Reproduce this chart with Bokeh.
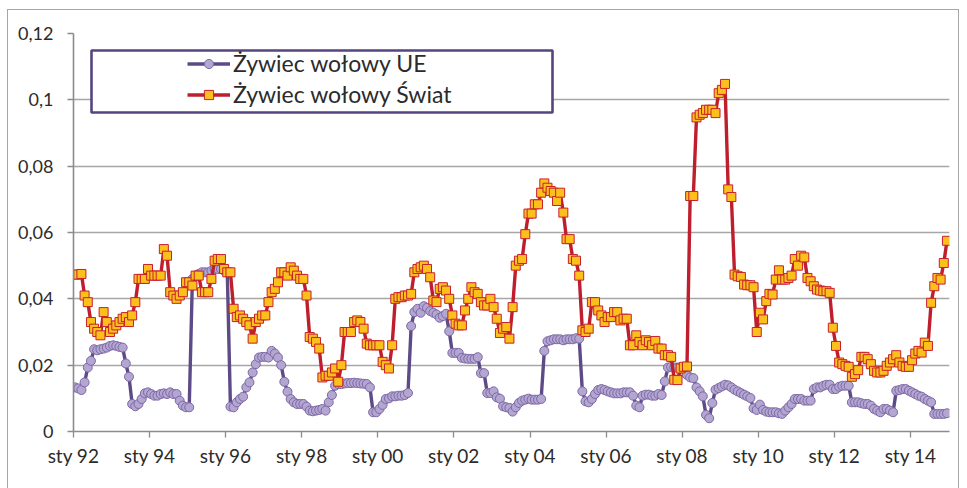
import numpy as np
from bokeh.plotting import figure
from bokeh.models import (Range1d, FixedTicker, Legend, LegendItem, BoxAnnotation)
from bokeh.embed import file_html
from bokeh.resources import INLINE

# ---------------- data (monthly, Jan 1992 - Dec 2014) ----------------
UE = [
    0.0133, 0.0130, 0.0125, 0.0148, 0.0193, 0.0213, 0.0248, 0.0245, 0.0248, 0.0250, 0.0253, 0.0258,  # 1992
    0.0260, 0.0258, 0.0255, 0.0253, 0.0205, 0.0165, 0.0083, 0.0076, 0.0083, 0.0098, 0.0115, 0.0118,  # 1993
    0.0113, 0.0108, 0.0108, 0.0113, 0.0115, 0.0113, 0.0118, 0.0113, 0.0113, 0.0093, 0.0078, 0.0073,  # 1994
    0.0073, 0.0460, 0.0470, 0.0475, 0.0480, 0.0480, 0.0480, 0.0485, 0.0490, 0.0490, 0.0490, 0.0485,  # 1995
    0.0480, 0.0075, 0.0073, 0.0088, 0.0098, 0.0105, 0.0133, 0.0148, 0.0178, 0.0203, 0.0223, 0.0225,  # 1996
    0.0225, 0.0223, 0.0243, 0.0235, 0.0223, 0.0200, 0.0150, 0.0120, 0.0098, 0.0088, 0.0083, 0.0083,  # 1997
    0.0083, 0.0075, 0.0063, 0.0061, 0.0063, 0.0065, 0.0068, 0.0063, 0.0088, 0.0110, 0.0138, 0.0143,  # 1998
    0.0143, 0.0145, 0.0146, 0.0146, 0.0147, 0.0146, 0.0145, 0.0144, 0.0143, 0.0133, 0.0058, 0.0058,  # 1999
    0.0068, 0.0080, 0.0098, 0.0100, 0.0106, 0.0106, 0.0108, 0.0108, 0.0110, 0.0116, 0.0318, 0.0360,  # 2000
    0.0370, 0.0358, 0.0378, 0.0373, 0.0363, 0.0358, 0.0353, 0.0343, 0.0348, 0.0355, 0.0302, 0.0237,  # 2001
    0.0237, 0.0237, 0.0222, 0.0220, 0.0219, 0.0219, 0.0219, 0.0224, 0.0176, 0.0176, 0.0116, 0.0116,  # 2002
    0.0121, 0.0103, 0.0099, 0.0076, 0.0073, 0.0071, 0.0060, 0.0073, 0.0086, 0.0093, 0.0096, 0.0099,  # 2003
    0.0096, 0.0096, 0.0096, 0.0098, 0.0243, 0.0272, 0.0275, 0.0278, 0.0278, 0.0278, 0.0275, 0.0278,  # 2004
    0.0278, 0.0278, 0.0281, 0.0280, 0.0121, 0.0091, 0.0088, 0.0098, 0.0113, 0.0125, 0.0128, 0.0125,  # 2005
    0.0121, 0.0118, 0.0115, 0.0115, 0.0115, 0.0118, 0.0118, 0.0118, 0.0108, 0.0078, 0.0073, 0.0108,  # 2006
    0.0111, 0.0111, 0.0108, 0.0108, 0.0113, 0.0110, 0.0151, 0.0193, 0.0195, 0.0193, 0.0193, 0.0188,  # 2007
    0.0178, 0.0171, 0.0163, 0.0161, 0.0133, 0.0121, 0.0106, 0.0050, 0.0040, 0.0086, 0.0126, 0.0131,  # 2008
    0.0136, 0.0141, 0.0139, 0.0133, 0.0126, 0.0121, 0.0116, 0.0111, 0.0106, 0.0101, 0.0070, 0.0065,  # 2009
    0.0081, 0.0065, 0.0060, 0.0058, 0.0058, 0.0058, 0.0055, 0.0053, 0.0063, 0.0073, 0.0083, 0.0098,  # 2010
    0.0098, 0.0098, 0.0093, 0.0093, 0.0093, 0.0128, 0.0133, 0.0133, 0.0138, 0.0141, 0.0141, 0.0128,  # 2011
    0.0128, 0.0135, 0.0138, 0.0138, 0.0138, 0.0088, 0.0088, 0.0088, 0.0085, 0.0083, 0.0083, 0.0078,  # 2012
    0.0068, 0.0063, 0.0058, 0.0068, 0.0068, 0.0063, 0.0058, 0.0123, 0.0125, 0.0128, 0.0128, 0.0123,  # 2013
    0.0118, 0.0113, 0.0108, 0.0105, 0.0098, 0.0093, 0.0088, 0.0053, 0.0053, 0.0053, 0.0053, 0.0055,  # 2014
]

SWIAT = [
    0.0473, 0.0473, 0.0475, 0.0410, 0.0390, 0.0330, 0.0310, 0.0300, 0.0290, 0.0360, 0.0330, 0.0300,  # 1992
    0.0310, 0.0320, 0.0330, 0.0340, 0.0345, 0.0330, 0.0350, 0.0390, 0.0460, 0.0460, 0.0460, 0.0490,  # 1993
    0.0470, 0.0470, 0.0470, 0.0470, 0.0550, 0.0530, 0.0420, 0.0410, 0.0400, 0.0410, 0.0420, 0.0450,  # 1994
    0.0450, 0.0440, 0.0470, 0.0470, 0.0420, 0.0420, 0.0420, 0.0460, 0.0515, 0.0520, 0.0520, 0.0490,  # 1995
    0.0480, 0.0480, 0.0370, 0.0345, 0.0350, 0.0340, 0.0330, 0.0320, 0.0280, 0.0330, 0.0340, 0.0350,  # 1996
    0.0350, 0.0390, 0.0420, 0.0430, 0.0450, 0.0480, 0.0480, 0.0470, 0.0495, 0.0485, 0.0470, 0.0460,  # 1997
    0.0460, 0.0410, 0.0285, 0.0280, 0.0270, 0.0250, 0.0163, 0.0168, 0.0168, 0.0178, 0.0190, 0.0150,  # 1998
    0.0200, 0.0300, 0.0300, 0.0300, 0.0330, 0.0335, 0.0330, 0.0310, 0.0265, 0.0260, 0.0260, 0.0260,  # 1999
    0.0260, 0.0210, 0.0200, 0.0190, 0.0260, 0.0400, 0.0405, 0.0405, 0.0410, 0.0410, 0.0415, 0.0480,  # 2000
    0.0490, 0.0495, 0.0500, 0.0490, 0.0465, 0.0395, 0.0390, 0.0430, 0.0435, 0.0425, 0.0400, 0.0350,  # 2001
    0.0325, 0.0320, 0.0320, 0.0365, 0.0400, 0.0435, 0.0420, 0.0415, 0.0390, 0.0380, 0.0380, 0.0400,  # 2002
    0.0375, 0.0340, 0.0297, 0.0310, 0.0315, 0.0280, 0.0375, 0.0500, 0.0515, 0.0520, 0.0595, 0.0657,  # 2003
    0.0657, 0.0685, 0.0685, 0.0720, 0.0748, 0.0735, 0.0725, 0.0720, 0.0695, 0.0720, 0.0660, 0.0580,  # 2004
    0.0580, 0.0520, 0.0515, 0.0470, 0.0305, 0.0300, 0.0310, 0.0390, 0.0390, 0.0365, 0.0350, 0.0330,  # 2005
    0.0345, 0.0345, 0.0360, 0.0360, 0.0335, 0.0340, 0.0340, 0.0260, 0.0260, 0.0290, 0.0270, 0.0260,  # 2006
    0.0275, 0.0270, 0.0260, 0.0273, 0.0250, 0.0250, 0.0230, 0.0230, 0.0225, 0.0156, 0.0155, 0.0190,  # 2007
    0.0195, 0.0196, 0.0710, 0.0710, 0.0947, 0.0955, 0.0960, 0.0970, 0.0970, 0.0970, 0.0960, 0.1020,  # 2008
    0.1030, 0.1048, 0.0730, 0.0707, 0.0473, 0.0468, 0.0466, 0.0443, 0.0441, 0.0441, 0.0435, 0.0300,  # 2009
    0.0358, 0.0338, 0.0393, 0.0415, 0.0413, 0.0458, 0.0486, 0.0458, 0.0458, 0.0463, 0.0470, 0.0520,  # 2010
    0.0500, 0.0530, 0.0525, 0.0463, 0.0453, 0.0438, 0.0428, 0.0425, 0.0423, 0.0423, 0.0418, 0.0313,  # 2011
    0.0258, 0.0208, 0.0203, 0.0198, 0.0195, 0.0165, 0.0173, 0.0185, 0.0225, 0.0225, 0.0218, 0.0203,  # 2012
    0.0183, 0.0178, 0.0178, 0.0183, 0.0198, 0.0208, 0.0218, 0.0230, 0.0208, 0.0198, 0.0195, 0.0195,  # 2013
    0.0215, 0.0235, 0.0243, 0.0238, 0.0268, 0.0258, 0.0388, 0.0438, 0.0463, 0.0458, 0.0508, 0.0575,  # 2014
]

SERIES_NAMES = ["Żywiec wołowy UE", "Żywiec wołowy Świat"]

X_TICKS = [0, 24, 48, 72, 96, 120, 144, 168, 192, 216, 240, 264]  # month index of January
X_TICK_LABELS = ["sty 92", "sty 94", "sty 96", "sty 98", "sty 00", "sty 02",
                 "sty 04", "sty 06", "sty 08", "sty 10", "sty 12", "sty 14"]
Y_TICKS = [0, 0.02, 0.04, 0.06, 0.08, 0.1, 0.12]
Y_TICK_LABELS = ["0", "0,02", "0,04", "0,06", "0,08", "0,1", "0,12"]

# ---------------- figure ----------------
FONT = "Lato"
TXT = "#2b2b2b"
AXIS_C = "#8c8c8c"

W, H = 950, 478          # chart area, placed 8px / 10px from the page corner
BL, BR, BT, BB = 65, 9, 23, 57
FRAME_W, FRAME_H = W - BL - BR, H - BT - BB
X_END = 276.3

months = np.arange(len(UE)) + 0.5   # mid-month positions

p = figure(width=W, height=H, output_backend="svg", toolbar_location=None,
           x_range=Range1d(0, X_END), y_range=Range1d(0, 0.12),
           min_border_left=BL, min_border_right=BR, min_border_top=BT, min_border_bottom=BB)
p.margin = (10, 0, 0, 8)
p.styles = {"outline": "1px solid #a6a6a6"}
p.outline_line_color = None
p.background_fill_color = "white"
p.border_fill_color = "white"

def sx(px):  # px from frame left -> data x
    return px / FRAME_W * X_END
def sy(px):  # px from frame top -> data y
    return 0.12 - px / FRAME_H * 0.12

# axes
p.xaxis.ticker = FixedTicker(ticks=X_TICKS)
p.xaxis.major_label_overrides = {t: l for t, l in zip(X_TICKS, X_TICK_LABELS)}
p.yaxis.ticker = FixedTicker(ticks=Y_TICKS)
p.yaxis.major_label_overrides = {t: l for t, l in zip(Y_TICKS, Y_TICK_LABELS)}
for ax in (p.xaxis, p.yaxis):
    ax.axis_line_color = AXIS_C
    ax.axis_line_width = 1.6
    ax.major_tick_line_color = AXIS_C
    ax.major_tick_line_width = 1.3
    ax.major_tick_out = 6
    ax.major_tick_in = 0
    ax.minor_tick_line_color = None
    ax.major_label_text_font = FONT
    ax.major_label_text_color = TXT
p.xaxis.major_label_text_font_size = "19px"
p.yaxis.major_label_text_font_size = "18px"
p.xaxis.major_label_standoff = 6
p.yaxis.major_label_standoff = 14

p.xgrid.grid_line_color = None
p.ygrid.ticker = FixedTicker(ticks=Y_TICKS)
p.ygrid.grid_line_color = "#a6a6a6"
p.ygrid.grid_line_width = 1.3

# series
PURPLE_LINE = "#5d4b87"
PURPLE_FILL = "#b3a6d1"
PURPLE_EDGE = "#7d68a6"
RED_LINE = "#be1e2d"
SQ_FILL = "#fbc01b"
SQ_EDGE = "#c8202c"

l1 = p.line(months, UE, line_color=PURPLE_LINE, line_width=3.4)
s1 = p.scatter(months, UE, marker="circle", size=9, fill_color=PURPLE_FILL,
               line_color=PURPLE_EDGE, line_width=1)
l2 = p.line(months, SWIAT, line_color=RED_LINE, line_width=3.4)
s2 = p.scatter(months, SWIAT, marker="square", size=9, fill_color=SQ_FILL,
               line_color=SQ_EDGE, line_width=1)

# legend frame
box = BoxAnnotation(left=sx(18), right=sx(479), top=sy(17), bottom=sy(79),
                    fill_color="white", fill_alpha=1.0,
                    line_color="#56457e", line_alpha=1.0, line_width=2.6, level="annotation")
p.add_layout(box)

# one legend per row, for exact row spacing
GLYPH_H = 23
common = dict(border_line_color=None, background_fill_alpha=0,
              glyph_width=43, glyph_height=GLYPH_H, label_height=GLYPH_H, spacing=0,
              label_standoff=3, padding=0, margin=0,
              label_text_font=FONT, label_text_font_size="23px", label_text_color=TXT)
row_centers = [33, 64]   # px below the frame top
for name, rs, yc in zip(SERIES_NAMES, [[l1, s1], [l2, s2]], row_centers):
    lg = Legend(items=[LegendItem(label=name, renderers=rs)],
                location=(114, FRAME_H - yc - GLYPH_H // 2), **common)
    p.add_layout(lg, "center")

open("out.html", "w").write(file_html(p, INLINE))
